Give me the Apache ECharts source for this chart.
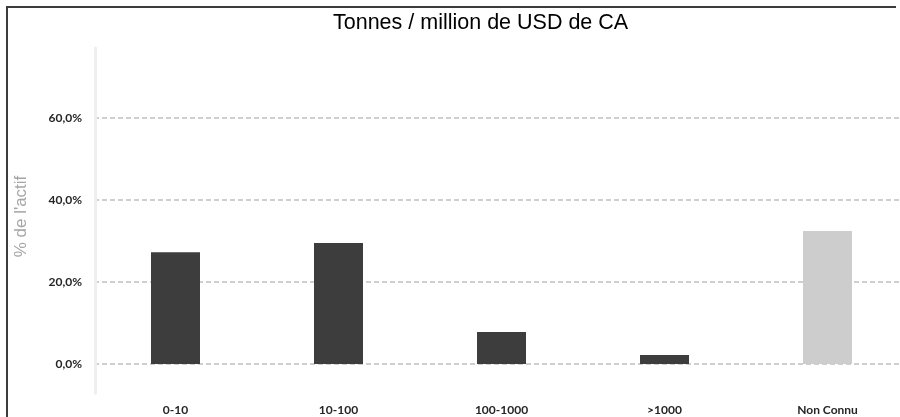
<!DOCTYPE html>
<html>
<head>
<meta charset="utf-8">
<script src="https://cdn.jsdelivr.net/npm/echarts@6/dist/echarts.min.js"></script>
<style>
  html, body { margin: 0; padding: 0; background: #fff; overflow: hidden; width: 900px; height: 417px; }
  #chart { position: absolute; left: 0; top: 0; width: 900px; height: 417px; }
</style>
</head>
<body>
<div id="chart"></div>
<script>
const titleText = 'Tonnes / million de USD de CA';
const yAxisName = "% de l'actif";
const categories = ['0-10', '10-100', '100-1000', '>1000', 'Non Connu'];
const values = [27.2, 29.5, 7.8, 2.2, 32.4];
const unknownCategory = 'Non Connu';

const chart = echarts.init(document.getElementById('chart'), null, { renderer: 'canvas' });
const labelFont = { fontFamily: 'Lato', fontWeight: 'bold', fontSize: 12, color: '#262626' };

chart.setOption({
  animation: false,
  backgroundColor: '#fff',
  graphic: [{
    type: 'polyline', silent: true,
    shape: { points: [[7, 417], [7, 7], [896, 7]] },
    style: { stroke: '#3c3c3c', lineWidth: 2, fill: null }
  }],
  title: {
    text: titleText,
    left: 333, top: 12, padding: 0,
    textStyle: { fontFamily: 'Arial, "Liberation Sans"', fontWeight: 'normal', fontSize: 21.5, color: '#000' }
  },
  grid: [
    { left: 94, top: 48, width: 815, height: 316, outerBoundsMode: 'none', containLabel: false },
    { left: 95.5, top: 48, width: 800, height: 345, outerBoundsMode: 'none', containLabel: false }
  ],
  xAxis: [
    { type: 'category', data: categories, gridIndex: 0,
      axisLine: { show: false }, axisTick: { show: false },
      axisLabel: Object.assign({ margin: 40, interval: 0 }, labelFont) },
    { type: 'value', gridIndex: 1, show: false }
  ],
  yAxis: [
    { type: 'value', gridIndex: 0, min: 0, max: 77, interval: 20,
      axisLine: { show: false }, axisTick: { show: false },
      axisLabel: Object.assign({ margin: 12, showMaxLabel: false,
        formatter: v => v.toFixed(1).replace('.', ',') + '%' }, labelFont),
      splitLine: { show: true, showMaxLine: false,
        lineStyle: { color: '#c0c0c0', width: 1.5, type: [5, 3] } } },
    { type: 'value', gridIndex: 1, min: 0, max: 1,
      name: yAxisName, nameLocation: 'middle', nameGap: 66, nameRotate: 90,
      nameTextStyle: { fontFamily: 'Arial, "Liberation Sans"', fontSize: 17, color: '#a6a6a6', padding: [0, 0, 0, 8] },
      axisLine: { show: true, lineStyle: { color: '#efefef', width: 3 } },
      axisTick: { show: false }, axisLabel: { show: false }, splitLine: { show: false } }
  ],
  series: [{
    type: 'bar', xAxisIndex: 0, yAxisIndex: 0,
    data: values, barWidth: 49,
    itemStyle: { color: p => p.name === unknownCategory ? '#cccdcc' : '#3c3d3c' }
  }]
});
</script>
</body>
</html>
